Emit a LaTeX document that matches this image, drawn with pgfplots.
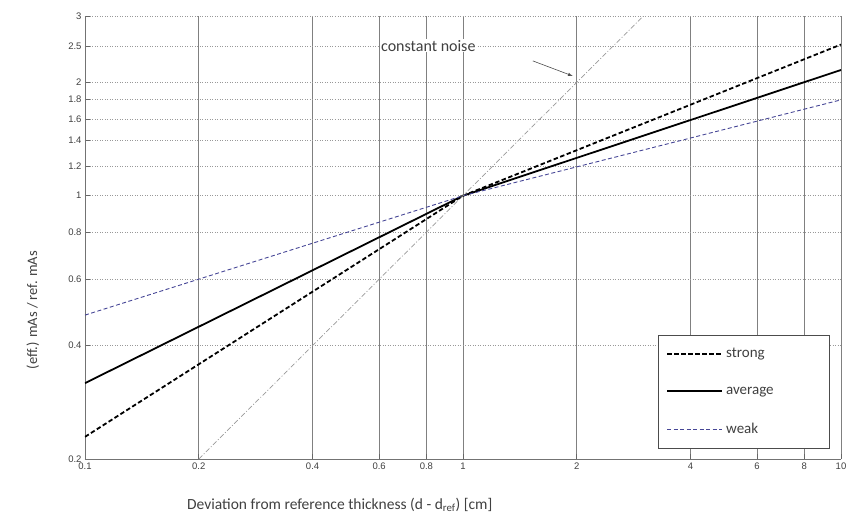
\documentclass[border=0pt]{standalone}
\usepackage{pgfplots}
\pgfplotsset{compat=1.18}
\usepackage{fontspec}
\setmainfont{Carlito}
\newfontfamily\tickfont{Liberation Sans}
\definecolor{weakblue}{RGB}{70,70,150}
\begin{document}
\begin{tikzpicture}
\begin{axis}[
  xmode=log, ymode=log,
  scale only axis, width=756pt, height=443pt,
  xmin=0.1, xmax=10, ymin=0.2, ymax=3,
  axis x line*=bottom, axis y line*=left,
  axis line style={black!55, line width=0.8pt, -},
  xtick={0.1,0.2,0.4,0.8,1,2,4,8,10},
  xticklabels={0.1,0.2,0.4,0.8,1,2,4,8,10},
  extra x ticks={0.6,6}, extra x tick labels={0.6,6},
  extra x tick style={grid=major, major grid style={black!80, line width=0.9pt, solid}},
  ytick={0.2,0.4,0.6,0.8,1,1.2,1.4,1.6,1.8,2,2.5,3},
  yticklabels={0.2,0.4,0.6,0.8,1,1.2,1.4,1.6,1.8,2,2.5,3},
  minor xtick={}, minor ytick={},
  xmajorgrids, ymajorgrids,
  x grid style={black!50, line width=0.7pt, solid},
  y grid style={black!40, line width=0.6pt, dash pattern=on 1pt off 1.5pt},
  tick align=inside, major tick length=5pt,
  tick style={black!60, line width=0.6pt},
  tick label style={font=\tickfont\fontsize{9.5}{11}\selectfont, text=black!75},
  xlabel={Deviation from reference thickness (d - d\textsubscript{ref}) [cm]},
  ylabel={(eff.) mAs / ref. mAs},
  xlabel style={at={(axis description cs:0.337,-0.104)}, anchor=center, font=\fontsize{15.5}{17}\selectfont, text=black!75},
  ylabel style={at={(axis description cs:-0.069,0.336)}, anchor=center, font=\fontsize{14.5}{16}\selectfont, text=black!75},
  legend style={at={(axis description cs:0.758,0.280)}, anchor=north west,
    draw=black!70, fill=white, line width=0.6pt, inner xsep=8pt, inner ysep=13pt,
    row sep=27.5pt, column sep=2pt,
    nodes={font=\fontsize{15}{16}\selectfont, text=black!75, text width=94pt, inner xsep=1pt, inner ysep=0pt}},
  legend cell align=left,
  legend image code/.code={\draw[#1] (0pt,0pt) -- (55pt,0pt);},
]
\addplot[black, line width=1.8pt, dash pattern=on 4.5pt off 2.5pt] coordinates {(0.1,0.229) (1,1) (10,2.52)};
\addlegendentry{strong}
\addplot[black, line width=1.8pt] coordinates {(0.1,0.318) (1,1) (10,2.157)};
\addlegendentry{average}
\addplot[weakblue, line width=0.9pt, dash pattern=on 4pt off 2.5pt] coordinates {(0.1,0.482) (1,1) (10,1.797)};
\addlegendentry{weak}
\addplot[black!40, line width=0.7pt, dash pattern=on 5pt off 2pt on 1pt off 2pt, forget plot] coordinates {(0.2,0.2) (3,3)};
\node[fill=white, inner sep=1pt, anchor=west, font=\fontsize{16}{17}\selectfont, text=black!75] at (axis cs:0.603,2.5) {constant noise};
\draw[-latex, black!70, line width=0.6pt] (axis cs:1.53,2.28) -- (axis cs:1.95,2.08);
\end{axis}
\pgfresetboundingbox
\path (-85pt,-58pt) rectangle (773pt,459pt);
\end{tikzpicture}
\end{document}
